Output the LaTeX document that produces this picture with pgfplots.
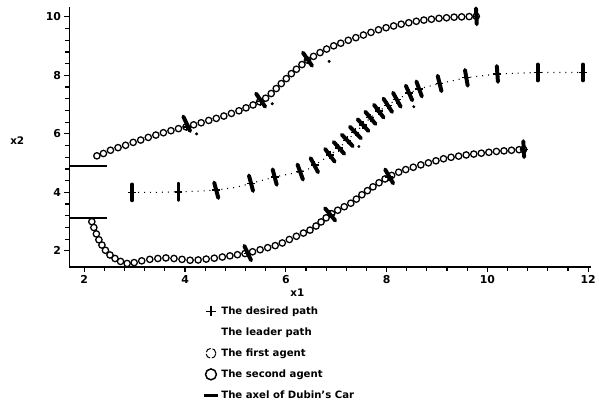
\documentclass[border=0pt]{standalone}
\usepackage{fontspec}
\setmainfont{DejaVu Sans}
\usepackage{pgfplots}
\pgfplotsset{compat=1.18}
\begin{document}
\begin{tikzpicture}
\begin{axis}[
  scale only axis, width=526pt, height=262pt,
  xmin=1.705, xmax=12.06, ymin=1.456, ymax=10.34,
  axis x line*=bottom, axis y line*=left,
  axis line style={-, black, line width=1.5pt},
  every outer x axis line/.append style={-},
  every outer y axis line/.append style={-},
  xtick={2,4,...,12}, ytick={2,4,...,10},
  minor tick num=4,
  tick align=outside, major tick length=5pt, minor tick length=4pt,
  tick style={line width=1.2pt, black},
  ticklabel style={font=\bfseries\fontsize{11}{13}\selectfont},
  /pgf/number format/assume math mode=true,
  xlabel={x1}, ylabel={x2},
  label style={font=\bfseries\fontsize{10.5}{12}\selectfont},
  x label style={at={(axis description cs:0.437,-0.099)}, anchor=center},
  y label style={at={(axis description cs:-0.10,0.485)}, anchor=center, rotate=-90},
  legend cell align=left,
  legend style={at={(axis description cs:0.249,-0.137)}, anchor=north west,
    draw=none, fill=none, font=\bfseries\fontsize{10.2}{12}\selectfont, row sep=8pt},
  clip=false,
]
% initial axles
\addplot[forget plot, black, line width=2.2pt] coordinates {(1.705,4.9) (2.45,4.9)};
\addplot[forget plot, black, line width=2.2pt] coordinates {(1.705,3.12) (2.45,3.12)};

% leader path (dotted)
\addplot[forget plot, black, line width=1.1pt, dash pattern=on 1pt off 5pt] coordinates {
(2.95,4.00) (3.40,4.00) (3.87,4.02) (4.25,4.04) (4.62,4.08) (5.00,4.17) (5.31,4.31)
(5.55,4.42) (5.78,4.53) (6.05,4.62) (6.29,4.71) (6.45,4.80) (6.57,4.93) (6.72,5.10)
(6.88,5.28) (7.05,5.52) (7.22,5.78) (7.38,6.05) (7.53,6.30) (7.68,6.55) (7.85,6.78)
(8.02,6.98) (8.20,7.17) (8.45,7.40) (8.65,7.54) (9.05,7.72) (9.58,7.92) (10.20,8.05)
(11.00,8.10) (11.90,8.10) (12.00,8.10)};

% first agent (upper)
\addplot[forget plot, black, only marks, mark=o, mark size=3.2pt, mark options={line width=1.3pt}] coordinates {
(2.25,5.25) (2.38,5.33) (2.52,5.44) (2.67,5.53) (2.82,5.61) (2.97,5.71) (3.12,5.79)
(3.27,5.88) (3.42,5.96) (3.57,6.04) (3.72,6.11) (3.87,6.18) (4.02,6.24) (4.17,6.31)
(4.32,6.38) (4.47,6.46) (4.62,6.53) (4.77,6.61) (4.92,6.70) (5.07,6.79) (5.21,6.89)
(5.35,6.99) (5.48,7.10) (5.60,7.22) (5.71,7.38) (5.81,7.55) (5.91,7.72) (6.01,7.89)
(6.11,8.06) (6.21,8.21) (6.32,8.37) (6.43,8.52) (6.55,8.65) (6.68,8.78) (6.81,8.90)
(6.95,9.01) (7.09,9.10) (7.24,9.20) (7.39,9.29) (7.54,9.38) (7.69,9.47) (7.84,9.56)
(7.99,9.63) (8.14,9.69) (8.29,9.75) (8.44,9.80) (8.59,9.85) (8.74,9.89) (8.89,9.92)
(9.04,9.95) (9.19,9.97) (9.34,9.99) (9.49,10.00) (9.64,10.01) (9.78,10.02)};

% second agent (lower)
\addplot[forget plot, black, only marks, mark=o, mark size=3.2pt, mark options={line width=1.3pt}] coordinates {
(2.15,3.00) (2.19,2.80) (2.24,2.58) (2.29,2.38) (2.35,2.20) (2.42,2.02) (2.51,1.86)
(2.61,1.74) (2.72,1.64) (2.85,1.57) (2.99,1.60) (3.14,1.66) (3.30,1.71) (3.46,1.74)
(3.62,1.76) (3.78,1.74) (3.94,1.71) (4.10,1.68) (4.26,1.69) (4.42,1.72) (4.58,1.75)
(4.74,1.79) (4.89,1.83) (5.04,1.87) (5.19,1.91) (5.34,1.97) (5.49,2.04) (5.64,2.11)
(5.79,2.18) (5.93,2.27) (6.07,2.39) (6.21,2.50) (6.35,2.61) (6.48,2.71) (6.60,2.85)
(6.70,2.99) (6.80,3.13) (6.91,3.27) (7.03,3.39) (7.16,3.51) (7.29,3.63) (7.40,3.77)
(7.51,3.92) (7.62,4.06) (7.73,4.19) (7.85,4.33) (7.97,4.46) (8.10,4.58) (8.24,4.69)
(8.38,4.78) (8.53,4.86) (8.68,4.94) (8.83,5.01) (8.98,5.08) (9.13,5.15) (9.28,5.20)
(9.43,5.24) (9.58,5.28) (9.73,5.31) (9.88,5.34) (10.03,5.37) (10.18,5.40) (10.33,5.42)
(10.48,5.44) (10.63,5.46) (10.72,5.47)};

% axles of Dubin's car (segments)
\addplot[forget plot, black, line width=4pt, line cap=round, quiver={u=\thisrow{u}, v=\thisrow{v}}] table {
x y u v
2.95 3.73 0 0.54
3.87 3.75 0 0.54
4.66 3.81 -0.082 0.526
5.35 4.05 -0.082 0.526
5.82 4.26 -0.082 0.526
6.34 4.44 -0.108 0.512
6.64 4.69 -0.148 0.48
6.97 5.05 -0.19 0.434
7.16 5.32 -0.21 0.404
7.33 5.58 -0.218 0.392
7.49 5.85 -0.218 0.392
7.64 6.10 -0.214 0.398
7.78 6.34 -0.202 0.416
7.94 6.56 -0.19 0.434
8.11 6.75 -0.172 0.456
8.28 6.93 -0.152 0.476
8.51 7.15 -0.128 0.498
8.70 7.28 -0.108 0.512
9.09 7.46 -0.076 0.528
9.61 7.65 -0.054 0.536
10.21 7.78 -0.022 0.54
11.00 7.83 0 0.54
11.90 7.83 0 0.54
4.10 6.10 -0.134 0.492
5.59 6.93 -0.18 0.446
6.52 8.33 -0.18 0.446
9.79 9.75 -0.016 0.54
5.31 1.68 -0.134 0.492
6.98 3.04 -0.202 0.416
8.13 4.31 -0.158 0.472
10.73 5.21 -0.016 0.54
};

% desired path marks
\addplot[forget plot, black, only marks, mark=+, mark size=4pt, mark options={line width=1.4pt}] coordinates {
(2.95,4.00) (3.87,4.02) (4.62,4.08) (5.31,4.31) (5.78,4.53) (6.29,4.71) (6.57,4.93)
(6.88,5.28) (7.05,5.52) (7.22,5.78) (7.38,6.05) (7.53,6.30) (7.68,6.55) (7.85,6.78)
(8.02,6.98) (8.20,7.17) (8.45,7.40) (8.65,7.54) (9.05,7.72) (9.58,7.92) (10.20,8.05)
(11.00,8.10) (11.90,8.10)
(4.03,6.24) (5.50,7.10) (6.43,8.52) (9.78,10.02)
(5.24,1.92) (6.88,3.25) (8.05,4.52) (10.72,5.47)};

% small stray dots
\addplot[forget plot, black, only marks, mark=*, mark size=1.3pt] coordinates {
(4.23,6.00) (5.73,7.03) (6.86,8.48) (8.54,6.93) (7.45,5.57)};

% legend
\addlegendimage{only marks, mark=+, mark size=5pt, mark options={line width=1.3pt}}
\addlegendentry{The desired path}
\addlegendimage{empty legend}
\addlegendentry{The leader path}
\addlegendimage{only marks, mark=o, mark size=5pt, mark options={line width=1pt, dash pattern=on 6pt off 2pt}}
\addlegendentry{The first agent}
\addlegendimage{only marks, mark=o, mark size=5.5pt, mark options={line width=1.5pt}}
\addlegendentry{The second agent}
\addlegendimage{legend image code/.code={\draw[line width=2.8pt] (0.05cm,0cm) -- (0.55cm,0cm);}}
\addlegendentry{The axel of Dubin's Car}
\end{axis}
\path[use as bounding box] (-70pt,-146pt) rectangle (529pt,269pt);
\end{tikzpicture}
\end{document}
